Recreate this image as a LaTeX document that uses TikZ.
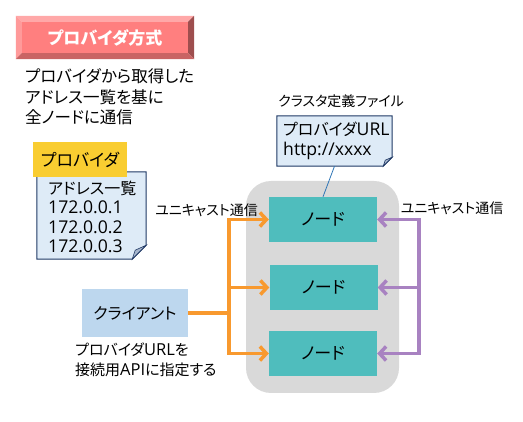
\documentclass[tikz,border=0pt]{standalone}
\usepackage{fontspec}
\setmainfont{Noto Sans CJK JP}[RawFeature=+palt]
\newfontfamily\lat{Open Sans}[Scale=1.1]
\usetikzlibrary{arrows.meta,calc}
\definecolor{titleface}{HTML}{FF7F7F}
\definecolor{titletop}{HTML}{FFA8A8}
\definecolor{titleleft}{HTML}{FF9A9A}
\definecolor{titleright}{HTML}{9E4E4E}
\definecolor{titlebot}{HTML}{C96464}
\definecolor{notefill}{HTML}{DEEBF7}
\definecolor{noteborder}{HTML}{1F3864}
\definecolor{foldfill}{HTML}{A6B5CC}
\definecolor{clustergray}{HTML}{D9D9D9}
\definecolor{nodeteal}{HTML}{4FBDBD}
\definecolor{arrorange}{HTML}{F8992E}
\definecolor{arrpurple}{HTML}{A882C1}
\definecolor{clientblue}{HTML}{BDD7EE}
\definecolor{provyellow}{HTML}{F9CD31}
\definecolor{linkblue}{HTML}{2E75B6}
\tikzset{
  plaintext/.style={inner sep=0pt, align=left, anchor=west},
  nodebox/.style={fill=nodeteal, minimum width=108pt, minimum height=45pt, inner sep=0pt, font=\fontsize{17}{20}\selectfont},
  notebox/.style={inner sep=0pt},
  oline/.style={draw=arrorange, line width=3.5pt, line join=miter},
  pline/.style={draw=arrpurple, line width=3.5pt, line join=miter},
  barb/.style={-{Straight Barb[length=6.5pt,width=14pt]}},
  dbarb/.style={{Straight Barb[length=6.5pt,width=14pt]}-{Straight Barb[length=6.5pt,width=14pt]}},
}
\begin{document}
\begin{tikzpicture}[x=1pt,y=-1pt]
\useasboundingbox (0,0) rectangle (523,422);
% title button
\node[minimum width=178pt, minimum height=43pt, inner sep=0pt] (title) at (105,37.5) {};
\fill[titletop] (title.north west) -- (title.north east) -- ++(-6,6) -- ($(title.north west)+(6,6)$) -- cycle;
\fill[titleleft] (title.north west) -- ++(6,6) -- ($(title.south west)+(6,-6)$) -- (title.south west) -- cycle;
\fill[titleright] (title.north east) -- ++(-6,6) -- ($(title.south east)+(-6,-6)$) -- (title.south east) -- cycle;
\fill[titlebot] (title.south west) -- ++(6,-6) -- ($(title.south east)+(-6,-6)$) -- (title.south east) -- cycle;
\fill[titleface] ($(title.north west)+(6,6)$) rectangle ($(title.south east)+(-6,-6)$);
\node[text=white, font=\fontsize{17}{20}\selectfont\bfseries] (titletext) at (title.center) {プロバイダ方式};
% description
\node[plaintext, font=\fontsize{16.5}{20.5}\selectfont] (desc) at (25,97) {プロバイダから取得した\\アドレス一覧を基に\\全ノードに通信};
% provider note
\node[notebox, minimum width=109pt, minimum height=87pt] (pnote) at (91.5,215.5) {};
\filldraw[fill=notefill, draw=noteborder, line width=1pt] (pnote.north west) -- (pnote.north east) -- ($(pnote.south east)+(0,-14)$) -- ($(pnote.south east)+(-14,0)$) -- (pnote.south west) -- cycle;
\filldraw[fill=foldfill, draw=noteborder, line width=0.6pt] ($(pnote.south east)+(0,-14)$) -- ($(pnote.south east)+(-11,-9)$) -- ($(pnote.south east)+(-14,0)$) -- cycle;
\node[plaintext, font=\fontsize{16}{19.5}\selectfont] (ptext) at (48,217) {アドレス一覧\\{\lat 172.0.0.1}\\{\lat 172.0.0.2}\\{\lat 172.0.0.3}};
\node[fill=provyellow, minimum width=94pt, minimum height=35pt, inner sep=0pt, font=\fontsize{17}{20}\selectfont] (plabel) at (80,159.5) {プロバイダ};
% cluster background
\node[fill=clustergray, rounded corners=25pt, minimum width=153pt, minimum height=212pt, inner sep=0pt] (cluster) at (322.5,287) {};
\node[nodebox] (n1) at (323,219.5) {ノード};
\node[nodebox] (n2) at (323.5,287.5) {ノード};
\node[nodebox] (n3) at (323,353.5) {ノード};
% cluster definition note
\node[plaintext, font=\fontsize{14}{17}\selectfont] (clabel) at (278,101) {クラスタ定義ファイル};
\node[notebox, minimum width=115pt, minimum height=50pt] (cnote) at (334.5,141) {};
\filldraw[fill=notefill, draw=noteborder, line width=1pt] (cnote.north west) -- (cnote.north east) -- ($(cnote.south east)+(0,-9)$) -- ($(cnote.south east)+(-9,0)$) -- (cnote.south west) -- cycle;
\filldraw[fill=foldfill, draw=noteborder, line width=0.6pt] ($(cnote.south east)+(0,-9)$) -- ($(cnote.south east)+(-7,-6)$) -- ($(cnote.south east)+(-9,0)$) -- cycle;
\node[plaintext, font=\fontsize{16}{20}\selectfont] (ctext) at (283,141) {プロバイダ{\lat URL}\\{\lat http://xxxx}};
\draw[linkblue, line width=0.8pt] (cnote.south) -- (n1.north);
% client
\node[fill=clientblue, minimum width=106pt, minimum height=48pt, inner sep=0pt, font=\fontsize{16}{20}\selectfont] (client) at (135,313) {クライアント};
\node[plaintext, font=\fontsize{15}{20}\selectfont] (ccap) at (75,360) {プロバイダ{\lat URL}を\\接続用{\lat API}に指定する};
% orange connectors
\coordinate (oj) at (229,0);
\draw[oline, dbarb] (n1.west) -- (oj |- n1.west) -- (oj |- n3.west) -- (n3.west);
\draw[oline, barb] (oj |- n2.west) -- (n2.west);
\draw[oline] (client.east) -- (oj |- client.east);
% purple connectors
\coordinate (pj) at (419,0);
\draw[pline, dbarb] (n1.east) -- (pj |- n1.east) -- (pj |- n3.east) -- (n3.east);
\draw[pline, barb] (pj |- n2.east) -- (n2.east);
% labels
\node[font=\fontsize{14}{17}\selectfont, inner sep=0pt] (ulabel1) at (206.5,210) {ユニキャスト通信};
\node[font=\fontsize{14}{17}\selectfont, inner sep=0pt] (ulabel2) at (452,208) {ユニキャスト通信};
\end{tikzpicture}
\end{document}
